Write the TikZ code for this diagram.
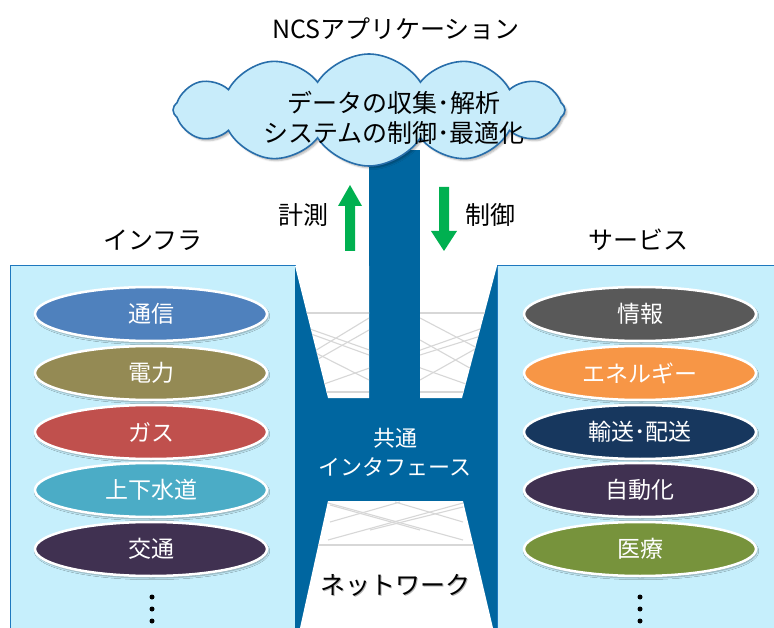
\documentclass[tikz,border=0pt]{standalone}
\usepackage{fontspec}
\newfontfamily\jp{Noto Sans CJK JP}
\usetikzlibrary{shapes.geometric,shapes.symbols,shadows.blur}
\definecolor{panel}{RGB}{198,239,252}
\definecolor{panelline}{RGB}{30,120,190}
\definecolor{netblue}{RGB}{0,102,160}
\definecolor{cloudfill}{RGB}{200,236,250}
\definecolor{cloudline}{RGB}{40,110,170}
\definecolor{arrowgreen}{RGB}{0,176,80}
\definecolor{netgray}{RGB}{215,215,215}
\definecolor{cTsushin}{RGB}{79,129,189}
\definecolor{cDenryoku}{RGB}{148,138,84}
\definecolor{cGas}{RGB}{192,80,77}
\definecolor{cSuido}{RGB}{75,172,198}
\definecolor{cKotsu}{RGB}{64,49,81}
\definecolor{cJoho}{RGB}{89,89,89}
\definecolor{cEnergy}{RGB}{247,150,70}
\definecolor{cYuso}{RGB}{23,55,94}
\definecolor{cJido}{RGB}{64,49,81}
\definecolor{cIryo}{RGB}{119,147,60}
\tikzset{
  pill/.style={ellipse, draw=white, line width=2.5pt, minimum width=232pt,
    minimum height=54pt, inner sep=0pt, text=white,
    font=\jp\fontsize{23}{23}\selectfont,
    blur shadow={shadow xshift=1pt, shadow yshift=-2pt, shadow blur steps=4, shadow opacity=35}},
  heading/.style={font=\jp\fontsize{25}{25}\selectfont, text=black},
  paneltext/.style={font=\jp\fontsize{22}{29}\selectfont, text=white, align=center},
  panelbox/.style={fill=panel, draw=panelline, line width=1pt,
    blur shadow={shadow xshift=3pt, shadow yshift=-2pt, shadow blur steps=5, shadow opacity=30}},
  netline/.style={draw=netgray, line width=1.1pt},
  dotmark/.style={circle, fill=black, inner sep=0pt, minimum size=5pt}
}
\begin{document}
\begin{tikzpicture}[x=1pt,y=-1pt]
\useasboundingbox (0,0) rectangle (774,628);
% panels
\begin{scope}
\clip (0,0) rectangle (774,628);
\path[panelbox] (10,266) rectangle (295,650);
\path[panelbox] (497,266) rectangle (790,650);
% blue interface body
\fill[netblue] (295,266) -- (497,266) -- (497,628) -- (295,628) -- cycle;
\fill[netblue] (369,150) rectangle (420,266);
% white network areas
\fill[white] (295,266) -- (328,398) -- (369,398) -- (369,266) -- cycle;
\fill[white] (420,266) -- (420,398) -- (462,398) -- (497,266) -- cycle;
\fill[white] (328,501) -- (463,501) -- (493,628) -- (300,628) -- cycle;
% gray network lines upper
\begin{scope}
\clip (295,266) -- (328,398) -- (369,398) -- (369,266) -- cycle
      (420,266) -- (420,398) -- (462,398) -- (497,266) -- cycle;
\draw[netline] (290,313) -- (500,313);
\draw[netline] (290,322) -- (500,396);
\draw[netline] (290,396) -- (500,322);
\draw[netline] (290,340) -- (369,380);
\draw[netline] (290,375) -- (369,330);
\draw[netline] (300,330) -- (369,355);
\draw[netline] (300,360) -- (369,318);
\draw[netline] (290,392) -- (369,392);
\draw[netline] (420,340) -- (500,385);
\draw[netline] (420,380) -- (500,335);
\draw[netline] (420,318) -- (500,360);
\draw[netline] (420,355) -- (500,330);
\draw[netline] (420,392) -- (500,392);
\end{scope}
% gray network lines lower
\begin{scope}
\clip (328,501) -- (463,501) -- (493,628) -- (300,628) -- cycle;
\draw[netline] (300,545) -- (495,545);
\draw[netline] (328,503) -- (463,540);
\draw[netline] (328,540) -- (463,503);
\draw[netline] (330,522) -- (400,502);
\draw[netline] (395,502) -- (463,522);
\draw[netline] (330,505) -- (420,530);
\draw[netline] (370,530) -- (463,507);
\end{scope}
\end{scope}
% cloud
\node[cloud, cloud puffs=12, cloud puff arc=115, cloud ignores aspect,
      minimum width=392pt, minimum height=112pt, inner sep=0pt,
      fill=cloudfill, draw=cloudline, line width=1.6pt,
      blur shadow={shadow xshift=2pt, shadow yshift=-2pt, shadow blur steps=4, shadow opacity=30}]
      (cloud) at (369,110) {};
\node[font=\jp\fontsize{25}{30}\selectfont, align=center] (cloudtext) at (394,118)
  {データの収集･解析\\システムの制御･最適化};
% title and headings
\node[heading] (title) at (396,29) {NCSアプリケーション};
\node[heading] (infra) at (153,240) {インフラ};
\node[heading] (service) at (638,240) {サービス};
% measure / control
\node[heading] (keisoku) at (303,215) {計測};
\node[heading] (seigyo) at (490,215) {制御};
\fill[arrowgreen] (345,251) -- (355,251) -- (355,206) -- (362,206) -- (350,185) -- (338,206) -- (345,206) -- cycle;
\fill[arrowgreen] (439,187) -- (449,187) -- (449,231) -- (457,231) -- (444,251) -- (431,231) -- (439,231) -- cycle;
% interface texts
\node[paneltext] (kyotsu) at (395,452) {共通\\インタフェース};
\node[heading, text=gray!60] at (396.5,586.5) {ネットワーク};
\node[heading] (network) at (395,585) {ネットワーク};
% left pills
\node[pill, fill=cTsushin] (tsushin) at (151,314) {通信};
\node[pill, fill=cDenryoku] (denryoku) at (151,373) {電力};
\node[pill, fill=cGas] (gas) at (151,432) {ガス};
\node[pill, fill=cSuido] (suido) at (151,490) {上下水道};
\node[pill, fill=cKotsu] (kotsu) at (151,549) {交通};
\node[dotmark] (ld1) at (152,597) {};
\node[dotmark] (ld2) at (152,609) {};
\node[dotmark] (ld3) at (152,621) {};
% right pills
\node[pill, fill=cJoho] (joho) at (640,314) {情報};
\node[pill, fill=cEnergy] (energy) at (640,373) {エネルギー};
\node[pill, fill=cYuso] (yuso) at (640,432) {輸送･配送};
\node[pill, fill=cJido] (jido) at (640,490) {自動化};
\node[pill, fill=cIryo] (iryo) at (640,549) {医療};
\node[dotmark] (rd1) at (640,597) {};
\node[dotmark] (rd2) at (640,609) {};
\node[dotmark] (rd3) at (640,621) {};
\end{tikzpicture}
\end{document}
